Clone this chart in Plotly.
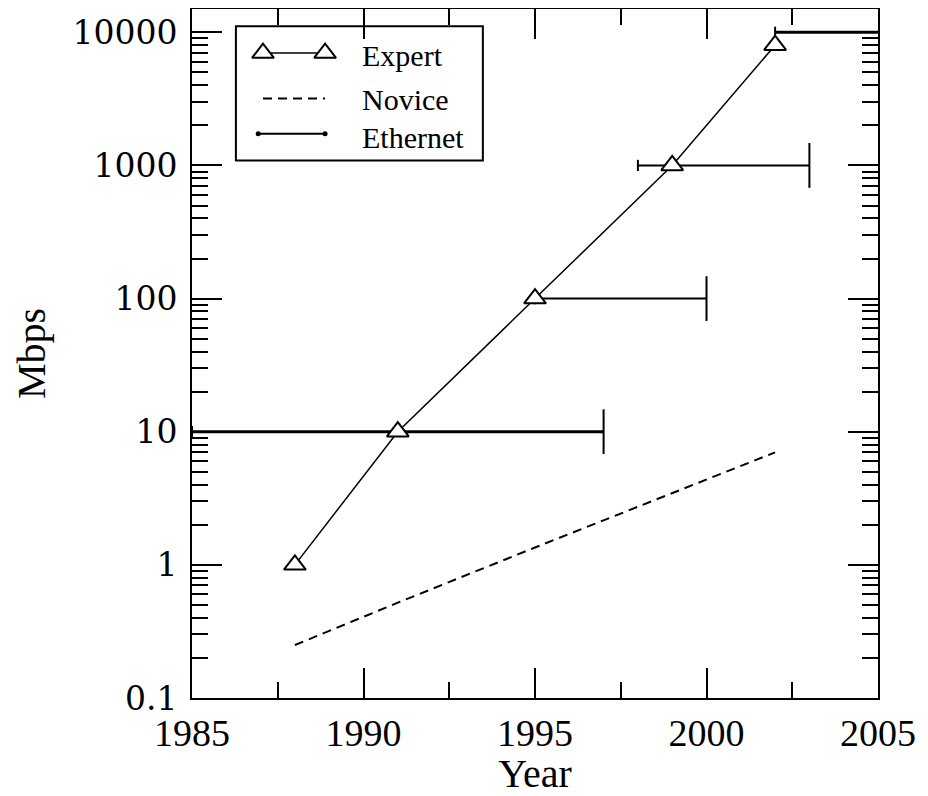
import plotly.graph_objects as go

# ---- data ----
expert_years = [1988, 1991, 1995, 1999, 2002]
expert_mbps = [1, 10, 100, 1000, 8000]

novice_years = [1988, 1991, 1995, 1999, 2002]
novice_mbps = [0.25, 0.52, 1.35, 3.45, 7.0]

ethernet_speed = [10, 100, 1000, 10000]
ethernet_start = [1985, 1995, 1998, 2002]
ethernet_end = [1997, 2000, 2003, 2005]

y_tick_vals = [0.1, 1, 10, 100, 1000, 10000]
y_tick_text = ["0.1", "1", "10", "100", "1000", "10000"]

legend_labels = ["Expert", "Novice", "Ethernet"]

FONT = "Liberation Serif"
BLACK = "black"

fig = go.Figure()

# Ethernet segments
eth_widths = [3, 2, 2, 3]
for s, a, b, w in zip(ethernet_speed, ethernet_start, ethernet_end, eth_widths):
    fig.add_trace(go.Scatter(x=[a, b], y=[s, s], mode="lines",
                             line=dict(color=BLACK, width=w),
                             showlegend=False, cliponaxis=False, hoverinfo="skip"))
# end caps
fig.add_trace(go.Scatter(x=ethernet_end[:3], y=ethernet_speed[:3], mode="markers",
                         marker=dict(symbol="line-ns", size=32, line=dict(color=BLACK, width=2)),
                         showlegend=False, cliponaxis=False, hoverinfo="skip"))
# start ticks
fig.add_trace(go.Scatter(x=ethernet_start, y=ethernet_speed, mode="markers",
                         marker=dict(symbol="line-ns", size=8, line=dict(color=BLACK, width=2)),
                         showlegend=False, cliponaxis=False, hoverinfo="skip"))

# Novice
fig.add_trace(go.Scatter(x=novice_years, y=novice_mbps, mode="lines",
                         line=dict(color=BLACK, width=2, dash="9px,6px"),
                         showlegend=False))

# Expert
fig.add_trace(go.Scatter(x=expert_years, y=expert_mbps, mode="lines+markers",
                         line=dict(color=BLACK, width=1.5),
                         marker=dict(symbol="triangle-up", size=19, color="white",
                                     line=dict(color=BLACK, width=2)),
                         showlegend=False, cliponaxis=False))

# ---- manual legend (overlay axes in [0,1]) ----
lx0, lx1 = 0.1035, 0.194
ly = [0.936, 0.870, 0.819]
fig.add_trace(go.Scatter(x=[lx0, lx1], y=[ly[0], ly[0]], xaxis="x2", yaxis="y2",
                         mode="lines+markers", line=dict(color=BLACK, width=1.5),
                         marker=dict(symbol="triangle-up", size=19, color="white",
                                     line=dict(color=BLACK, width=2)),
                         showlegend=False, hoverinfo="skip"))
fig.add_trace(go.Scatter(x=[lx0, lx1], y=[ly[1], ly[1]], xaxis="x2", yaxis="y2",
                         mode="lines", line=dict(color=BLACK, width=2, dash="9px,6px"),
                         showlegend=False, hoverinfo="skip"))
fig.add_trace(go.Scatter(x=[lx0 - 0.007, lx1], y=[ly[2], ly[2]], xaxis="x2", yaxis="y2",
                         mode="lines+markers", line=dict(color=BLACK, width=2),
                         marker=dict(symbol="circle", size=5, color=BLACK),
                         showlegend=False, hoverinfo="skip"))

fig.add_shape(type="rect", xref="paper", yref="paper", x0=0.064, x1=0.424, y0=0.780, y1=0.975,
              line=dict(color=BLACK, width=2), fillcolor="white", layer="below")
for lab, yy in zip(legend_labels, [0.932, 0.868, 0.813]):
    fig.add_annotation(x=0.245, y=yy, xref="paper", yref="paper", text=lab,
                       showarrow=False, xanchor="left", yanchor="middle",
                       font=dict(family=FONT, size=30, color=BLACK))

axis_common = dict(showgrid=False, zeroline=False, linecolor=BLACK, linewidth=2,
                   mirror="allticks", ticks="inside", ticklen=30, tickwidth=2, tickcolor=BLACK)

fig.update_layout(
    width=920, height=788,
    margin=dict(l=184, r=50, t=1, b=98),
    paper_bgcolor="white", plot_bgcolor="white",
    xaxis=dict(range=[1985, 2005], tick0=1985, dtick=5,
               tickfont=dict(family=FONT, size=38, color=BLACK),
               minor=dict(dtick=2.5, ticks="inside", ticklen=16, tickwidth=2, tickcolor=BLACK, showgrid=False),
               title=dict(text="Year", font=dict(family=FONT, size=40, color=BLACK), standoff=12),
               automargin=False, **axis_common),
    yaxis=dict(type="log", range=[-1, 4.175], tickmode="array",
               tickvals=y_tick_vals, ticktext=y_tick_text,
               tickfont=dict(family="DejaVu Serif", size=33, color=BLACK),
               ticklabelstandoff=6,
               minor=dict(dtick="D1", ticks="inside", ticklen=16, tickwidth=2, tickcolor=BLACK, showgrid=False),
               title=dict(text="Mbps", font=dict(family=FONT, size=40, color=BLACK), standoff=14),
               automargin=False, **axis_common),
    xaxis2=dict(range=[0, 1], overlaying="x", visible=False),
    yaxis2=dict(range=[0, 1], overlaying="y", visible=False),
)

fig.write_html("out.html")
